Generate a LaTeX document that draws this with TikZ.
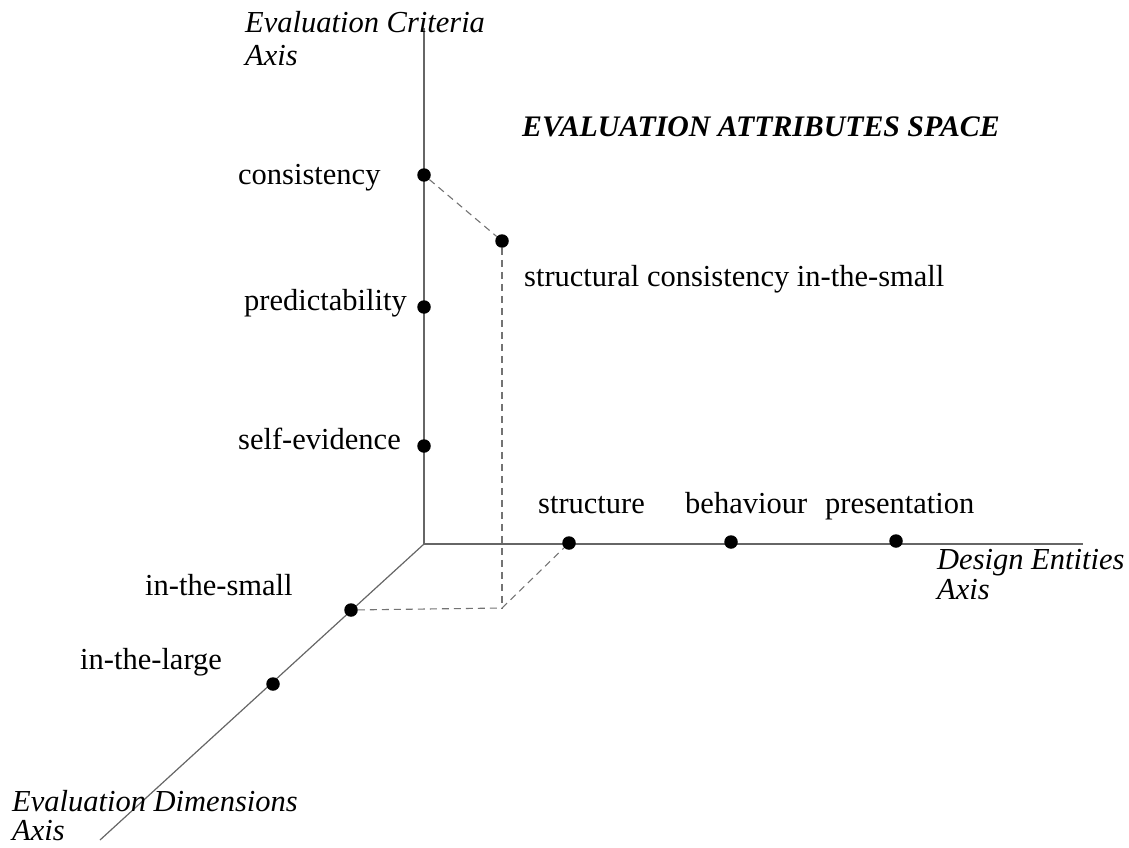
\documentclass[tikz,border=0pt]{standalone}
\usepackage{fontspec}
\setmainfont{Liberation Serif}
\begin{document}
\begin{tikzpicture}[x=1pt,y=-1pt,
  axis/.style={draw=black!60,line width=1.2pt},
  guide/.style={draw=black!55,line width=1.1pt,dash pattern=on 7pt off 5pt},
  dot/.style={circle,fill=black,inner sep=0pt,minimum size=13.5pt},
  lbl/.style={anchor=base west,inner sep=0pt,font=\fontsize{30.5}{33}\selectfont},
  axlbl/.style={anchor=base west,inner sep=0pt,font=\fontsize{30.5}{32}\selectfont\itshape},
  ttl/.style={anchor=base west,inner sep=0pt,font=\fontsize{29.8}{33}\selectfont\bfseries\itshape}]
\useasboundingbox (0,0) rectangle (1129,848);

% axes
\coordinate (O) at (424,544);
\coordinate (Ztop) at (424,28);
\coordinate (Xend) at (1083,544);
\coordinate (Yend) at (100,840);
\draw[axis] (O) -- (Ztop);
\draw[axis] (O) -- (Xend);
\draw[axis] (O) -- (Yend);

% points on the axes
\node[dot] (cons) at (424,175) {};
\node[dot] (pred) at (424,307) {};
\node[dot] (self) at (424,446) {};
\node[dot] (struct) at (569,543) {};
\node[dot] (behav) at (731,542) {};
\node[dot] (pres) at (896,541) {};
\node[dot] (small) at (351,610) {};
\node[dot] (large) at (273,684) {};
\node[dot] (sci) at (502,241) {};
\coordinate (foot) at (502,608);

% projection guides
\draw[guide] (cons) -- (sci);
\draw[guide] (sci) -- (foot);
\draw[guide] (small) -- (foot);
\draw[guide] (foot) -- (struct);

% axis names
\node[axlbl] (zl1) at (245,33) {Evaluation Criteria};
\node[axlbl] (zl2) at (245,66) {Axis};
\node[axlbl] (xl1) at (937,569) {Design Entities};
\node[axlbl] (xl2) at (937,599) {Axis};
\node[axlbl] (yl1) at (12,811) {Evaluation Dimensions};
\node[axlbl] (yl2) at (12,840) {Axis};

% title and point labels
\node[ttl] (title) at (522,136) {EVALUATION ATTRIBUTES SPACE};
\node[lbl] (lcons) at (238,184) {consistency};
\node[lbl] (lpred) at (244,310) {predictability};
\node[lbl] (lself) at (238,449) {self-evidence};
\node[lbl] (lsci) at (524,286) {structural consistency in-the-small};
\node[lbl] (lstruct) at (538,513) {structure};
\node[lbl] (lbehav) at (685,513) {behaviour};
\node[lbl] (lpres) at (825,513) {presentation};
\node[lbl] (lsmall) at (145,595) {in-the-small};
\node[lbl] (llarge) at (80,669) {in-the-large};
\end{tikzpicture}
\end{document}
